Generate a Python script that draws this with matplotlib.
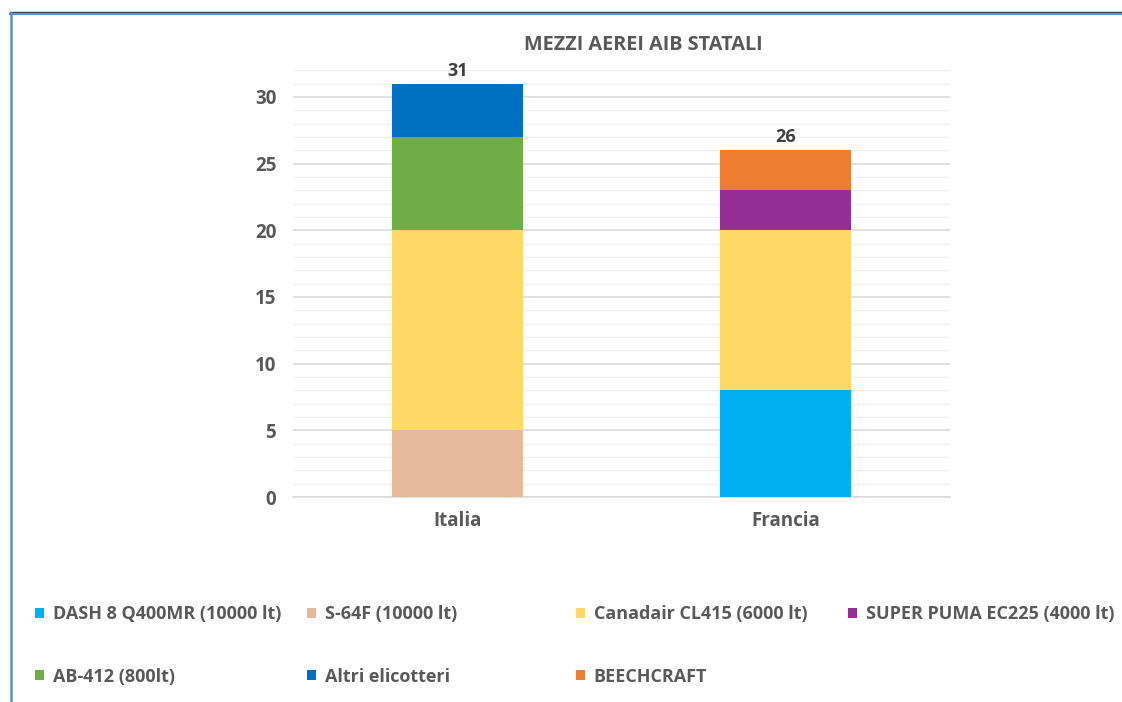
import numpy as np
import matplotlib.pyplot as plt
from matplotlib.patches import Patch
from matplotlib.lines import Line2D
from matplotlib.ticker import MultipleLocator

plt.rcParams['font.family'] = ['Open Sans', 'DejaVu Sans']

# data
countries = ['Italia', 'Francia']
series_names = ['DASH 8 Q400MR (10000 lt)', 'S-64F (10000 lt)', 'Canadair CL415 (6000 lt)',
                'SUPER PUMA EC225 (4000 lt)', 'AB-412 (800lt)', 'Altri elicotteri', 'BEECHCRAFT']
series_values = {
    'DASH 8 Q400MR (10000 lt)': [0, 8],
    'S-64F (10000 lt)': [5, 0],
    'Canadair CL415 (6000 lt)': [15, 12],
    'SUPER PUMA EC225 (4000 lt)': [0, 3],
    'AB-412 (800lt)': [7, 0],
    'Altri elicotteri': [4, 0],
    'BEECHCRAFT': [0, 3],
}
series_colors = ['#00B0F0', '#E6B89C', '#FFD966', '#952E94', '#70AD47', '#0070C0', '#ED7D31']

txt = '#595959'
W = 'bold'

fig = plt.figure(figsize=(11.22, 7.02), dpi=100)
ax = fig.add_axes([0.2611, 0.292, 0.5856, 0.608])

x = np.arange(len(countries))
bottom = np.zeros(len(countries))
for name, col in zip(series_names, series_colors):
    vals = np.array(series_values[name], dtype=float)
    ax.bar(x, vals, width=0.4, bottom=bottom, color=col, zorder=3)
    bottom += vals

# totals on top
for xi, tot in zip(x, bottom):
    ax.text(xi, tot + 0.3, f'{int(tot)}', ha='center', va='bottom', fontsize=13,
            fontweight='bold', color='#404040')

ax.set_xlim(-0.5, 1.5)
ax.set_ylim(0, 32)
ax.yaxis.set_major_locator(MultipleLocator(5))
ax.yaxis.set_minor_locator(MultipleLocator(1))
ax.grid(axis='y', which='major', color='#D9D9D9', linewidth=1.1, zorder=0)
ax.grid(axis='y', which='minor', color='#F0F0F0', linewidth=1.0, zorder=0)
for s in ['top', 'right', 'left']:
    ax.spines[s].set_visible(False)
ax.spines['bottom'].set_color('#D9D9D9')
ax.spines['bottom'].set_linewidth(1.1)
ax.tick_params(axis='both', which='both', length=0)
ax.tick_params(axis='y', pad=12)
ax.tick_params(axis='x', pad=10)
ax.set_xticks(x)
ax.set_xticklabels(countries)
for lab in ax.get_xticklabels() + ax.get_yticklabels():
    lab.set_fontsize(13.5)
    lab.set_fontweight(W)
    lab.set_color(txt)

fig.text(0.573, 0.936, 'MEZZI AEREI AIB STATALI', ha='center', va='center',
         fontsize=14.3, fontweight='bold', color=txt)

# legend, laid out in rows of four
leg_x = [0.031, 0.274, 0.513, 0.756]
leg_y = [0.125, 0.036]
for i, (name, col) in enumerate(zip(series_names, series_colors)):
    row, c = divmod(i, 4)
    lg = fig.legend(handles=[Patch(facecolor=col, edgecolor='none', label=name)],
                    loc='center left', bbox_to_anchor=(leg_x[c], leg_y[row]),
                    frameon=False, handlelength=0.5, handleheight=0.5,
                    handletextpad=0.5, borderpad=0, borderaxespad=0,
                    prop={'size': 13, 'weight': W})
    for t in lg.get_texts():
        t.set_color(txt)

# outer frame
fig.add_artist(Line2D([0.009, 1.0], [0.983, 0.983], color='#3A3A3A', linewidth=1.0))
fig.add_artist(Line2D([0.009, 1.0], [0.980, 0.980], color='#5B8FD0', linewidth=1.6))
fig.add_artist(Line2D([0.0095, 0.0095], [0.0, 0.981], color='#5B8FD0', linewidth=1.8))

fig.savefig('out.png', dpi=100)
